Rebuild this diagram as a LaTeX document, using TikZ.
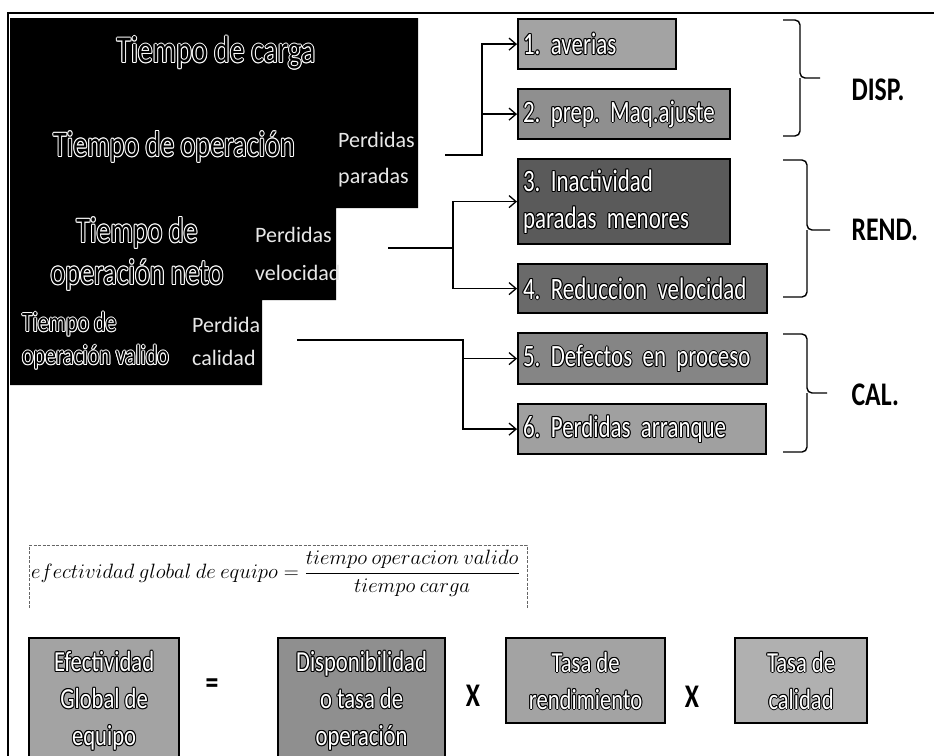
\documentclass[tikz,border=0pt]{standalone}
\usepackage{fontspec}
\setmainfont{Carlito}
\usetikzlibrary{arrows.meta}
\newfontfamily\condf[FakeStretch=0.78]{Carlito}
\newfontfamily\condn[FakeStretch=0.74]{Carlito}
\newfontfamily\plainf{Carlito}

% outlined lettering: eight shifted copies in the rim colour, then the fill colour on top
\newcommand\olcopy[3]{\rlap{\kern#1\raisebox{#2}{#3}}}
\newcommand\olt[3]{\leavevmode{\color{#1}%
  \olcopy{-1pt}{0pt}{#3}\olcopy{1pt}{0pt}{#3}%
  \olcopy{0pt}{1pt}{#3}\olcopy{0pt}{-1pt}{#3}%
  \olcopy{-.7pt}{.7pt}{#3}\olcopy{.7pt}{.7pt}{#3}%
  \olcopy{-.7pt}{-.7pt}{#3}\olcopy{.7pt}{-.7pt}{#3}}%
  {\color{#2}#3}}
\newcommand\lit[1]{\olt{black}{white}{#1}}
\newcommand\hol[1]{\olt{white}{black}{#1}}
\newcommand\tightsp{\frenchspacing\spaceskip=4pt plus 1pt\relax}

\definecolor{gA}{HTML}{A3A3A3}
\definecolor{gB}{HTML}{8F8F8F}
\definecolor{gC}{HTML}{5A5A5A}
\definecolor{gD}{HTML}{6A6A6A}
\definecolor{gE}{HTML}{858585}
\definecolor{gF}{HTML}{A0A0A0}
\definecolor{gG}{HTML}{B0B0B0}
\definecolor{offw}{HTML}{E8E8E8}

\tikzset{
  gbox/.style={draw=black, line width=2.2pt, inner xsep=5pt, inner ysep=0pt,
    anchor=north west, align=left,
    font=\condn\fontsize{31}{37}\selectfont\tightsp},
  bbox/.style={draw=black, line width=2.2pt, inner sep=0pt, anchor=north west,
    align=center, font=\condf\fontsize{29}{37}\selectfont\frenchspacing},
  arr/.style={line width=1.3pt, -{Straight Barb[length=7pt,width=12pt,line width=1.3pt]}},
  lbl/.style={anchor=west, font=\condf\bfseries\fontsize{33}{33}\selectfont},
  op/.style={font=\condf\bfseries\fontsize{33}{33}\selectfont},
  brc/.style={line width=1.4pt, rounded corners=5pt},
  loss/.style={anchor=west, align=left, text=offw, inner sep=0pt},
  big/.style={inner sep=0pt, font=\condf\fontsize{38}{42}\selectfont},
}

\begin{document}
\begin{tikzpicture}[x=1pt,y=-1pt]
\useasboundingbox (0,0) rectangle (934,755);
\clip (0,0) rectangle (934,755);

% frame lines
\draw[line width=2.6pt] (8,760) -- (8,13) -- (940,13);

% stepped time block
\fill[black] (10,18) -- (418,18) -- (418,208) -- (336,208) -- (336,300)
  -- (262,300) -- (262,385) -- (10,385) -- cycle;

\node[big] (tc) at (216,53) {\hol{Tiempo de carga}};
\node[big, font=\condf\fontsize{36}{42}\selectfont] (to) at (174,147) {\hol{Tiempo de operación}};
\node[loss, font=\plainf\fontsize{22}{36}\selectfont] (pp) at (338,160) {Perdidas\\paradas};
\node[big, align=center, font=\condf\fontsize{36}{42}\selectfont] (tn) at (137,254)
  {\hol{Tiempo de}\\\hol{operación neto}};
\node[loss, font=\plainf\fontsize{22}{38}\selectfont] (pv) at (255,254) {Perdidas\\velocidad};
\node[big, anchor=west, align=left, font=\condf\fontsize{28}{33}\selectfont] (tv) at (22,341)
  {\hol{Tiempo de}\\\hol{operación valido}};
\node[loss, font=\plainf\fontsize{22}{33}\selectfont] (pc) at (192,341) {Perdida\\calidad};

% loss boxes
\node[gbox, fill=gA, text width=148, minimum height=50] (b1) at (517,18) {\lit{1. averias}};
\node[gbox, fill=gB, text width=202, minimum height=50] (b2) at (517,88) {\lit{2. prep. Maq.ajuste}};
\node[gbox, fill=gC, text width=202, minimum height=85] (b3) at (517,158)
  {\lit{3. Inactividad}\\\lit{paradas menores}};
\node[gbox, fill=gD, text width=239, minimum height=49] (b4) at (517,263) {\lit{4. Reduccion velocidad}};
\node[gbox, fill=gE, text width=239, minimum height=51] (b5) at (517,332) {\lit{5. Defectos en proceso}};
\node[gbox, fill=gF, text width=238, minimum height=50] (b6) at (517,403) {\lit{6. Perdidas arranque}};

% connectors
\coordinate (s1) at (445,155);
\coordinate (s2) at (388,248);
\coordinate (s3) at (297,340);
\draw[arr] (s1) -- ++(37,0) |- (b1);
\draw[arr] (s1) -- ++(37,0) |- (b2);
\draw[arr] (s2) -- ++(65,0) |- (b3);
\draw[arr] (s2) -- ++(65,0) |- (b4);
\draw[arr] (s3) -- ++(166,0) |- (b5);
\draw[arr] (s3) -- ++(166,0) |- (b6);

% braces
\draw[brc] (783,20) -| (800,78) -- (820,78);
\draw[brc] (783,136) -| (800,78);
\draw[brc] (783,160) -| (807,230) -- (830,230);
\draw[brc] (783,297) -| (807,230);
\draw[brc] (783,334) -| (807,393) -- (827,393);
\draw[brc] (783,452) -| (807,393);

\node[lbl] (ld) at (848,90) {DISP.};
\node[lbl] (lr) at (848,230) {REND.};
\node[lbl] (lc) at (848,395) {CAL.};

% overall effectiveness formula
\draw[black!60, line width=0.6pt, dash pattern=on 3pt off 1.5pt]
  (29,608) -- (29,545) -- (527,545) -- (527,608);
\node[anchor=west, inner sep=0pt, text=black, font=\fontsize{20}{24}\selectfont] (fx) at (31,573)
  {$\displaystyle efectividad\ global\ de\ equipo=\frac{tiempo\ operacion\ valido}{tiempo\ carga}$};

% product of rates
\node[bbox, fill=gA, minimum width=150, minimum height=125] (e1) at (28,637)
  {\lit{Efectividad}\\\lit{Global de}\\\lit{equipo}};
\node[op] (eq) at (212,686) {=};
\node[bbox, fill=gB, minimum width=167, minimum height=125] (e2) at (277,637)
  {\lit{Disponibilidad}\\\lit{o tasa de}\\\lit{operación}};
\node[op] (x1) at (473,696) {X};
\node[bbox, fill=gA, minimum width=159, minimum height=85] (e3) at (505,637)
  {\lit{Tasa de}\\\lit{rendimiento}};
\node[op] (x2) at (692,697) {X};
\node[bbox, fill=gG, minimum width=132, minimum height=85] (e4) at (734,637)
  {\lit{Tasa de}\\\lit{calidad}};
\end{tikzpicture}
\end{document}
